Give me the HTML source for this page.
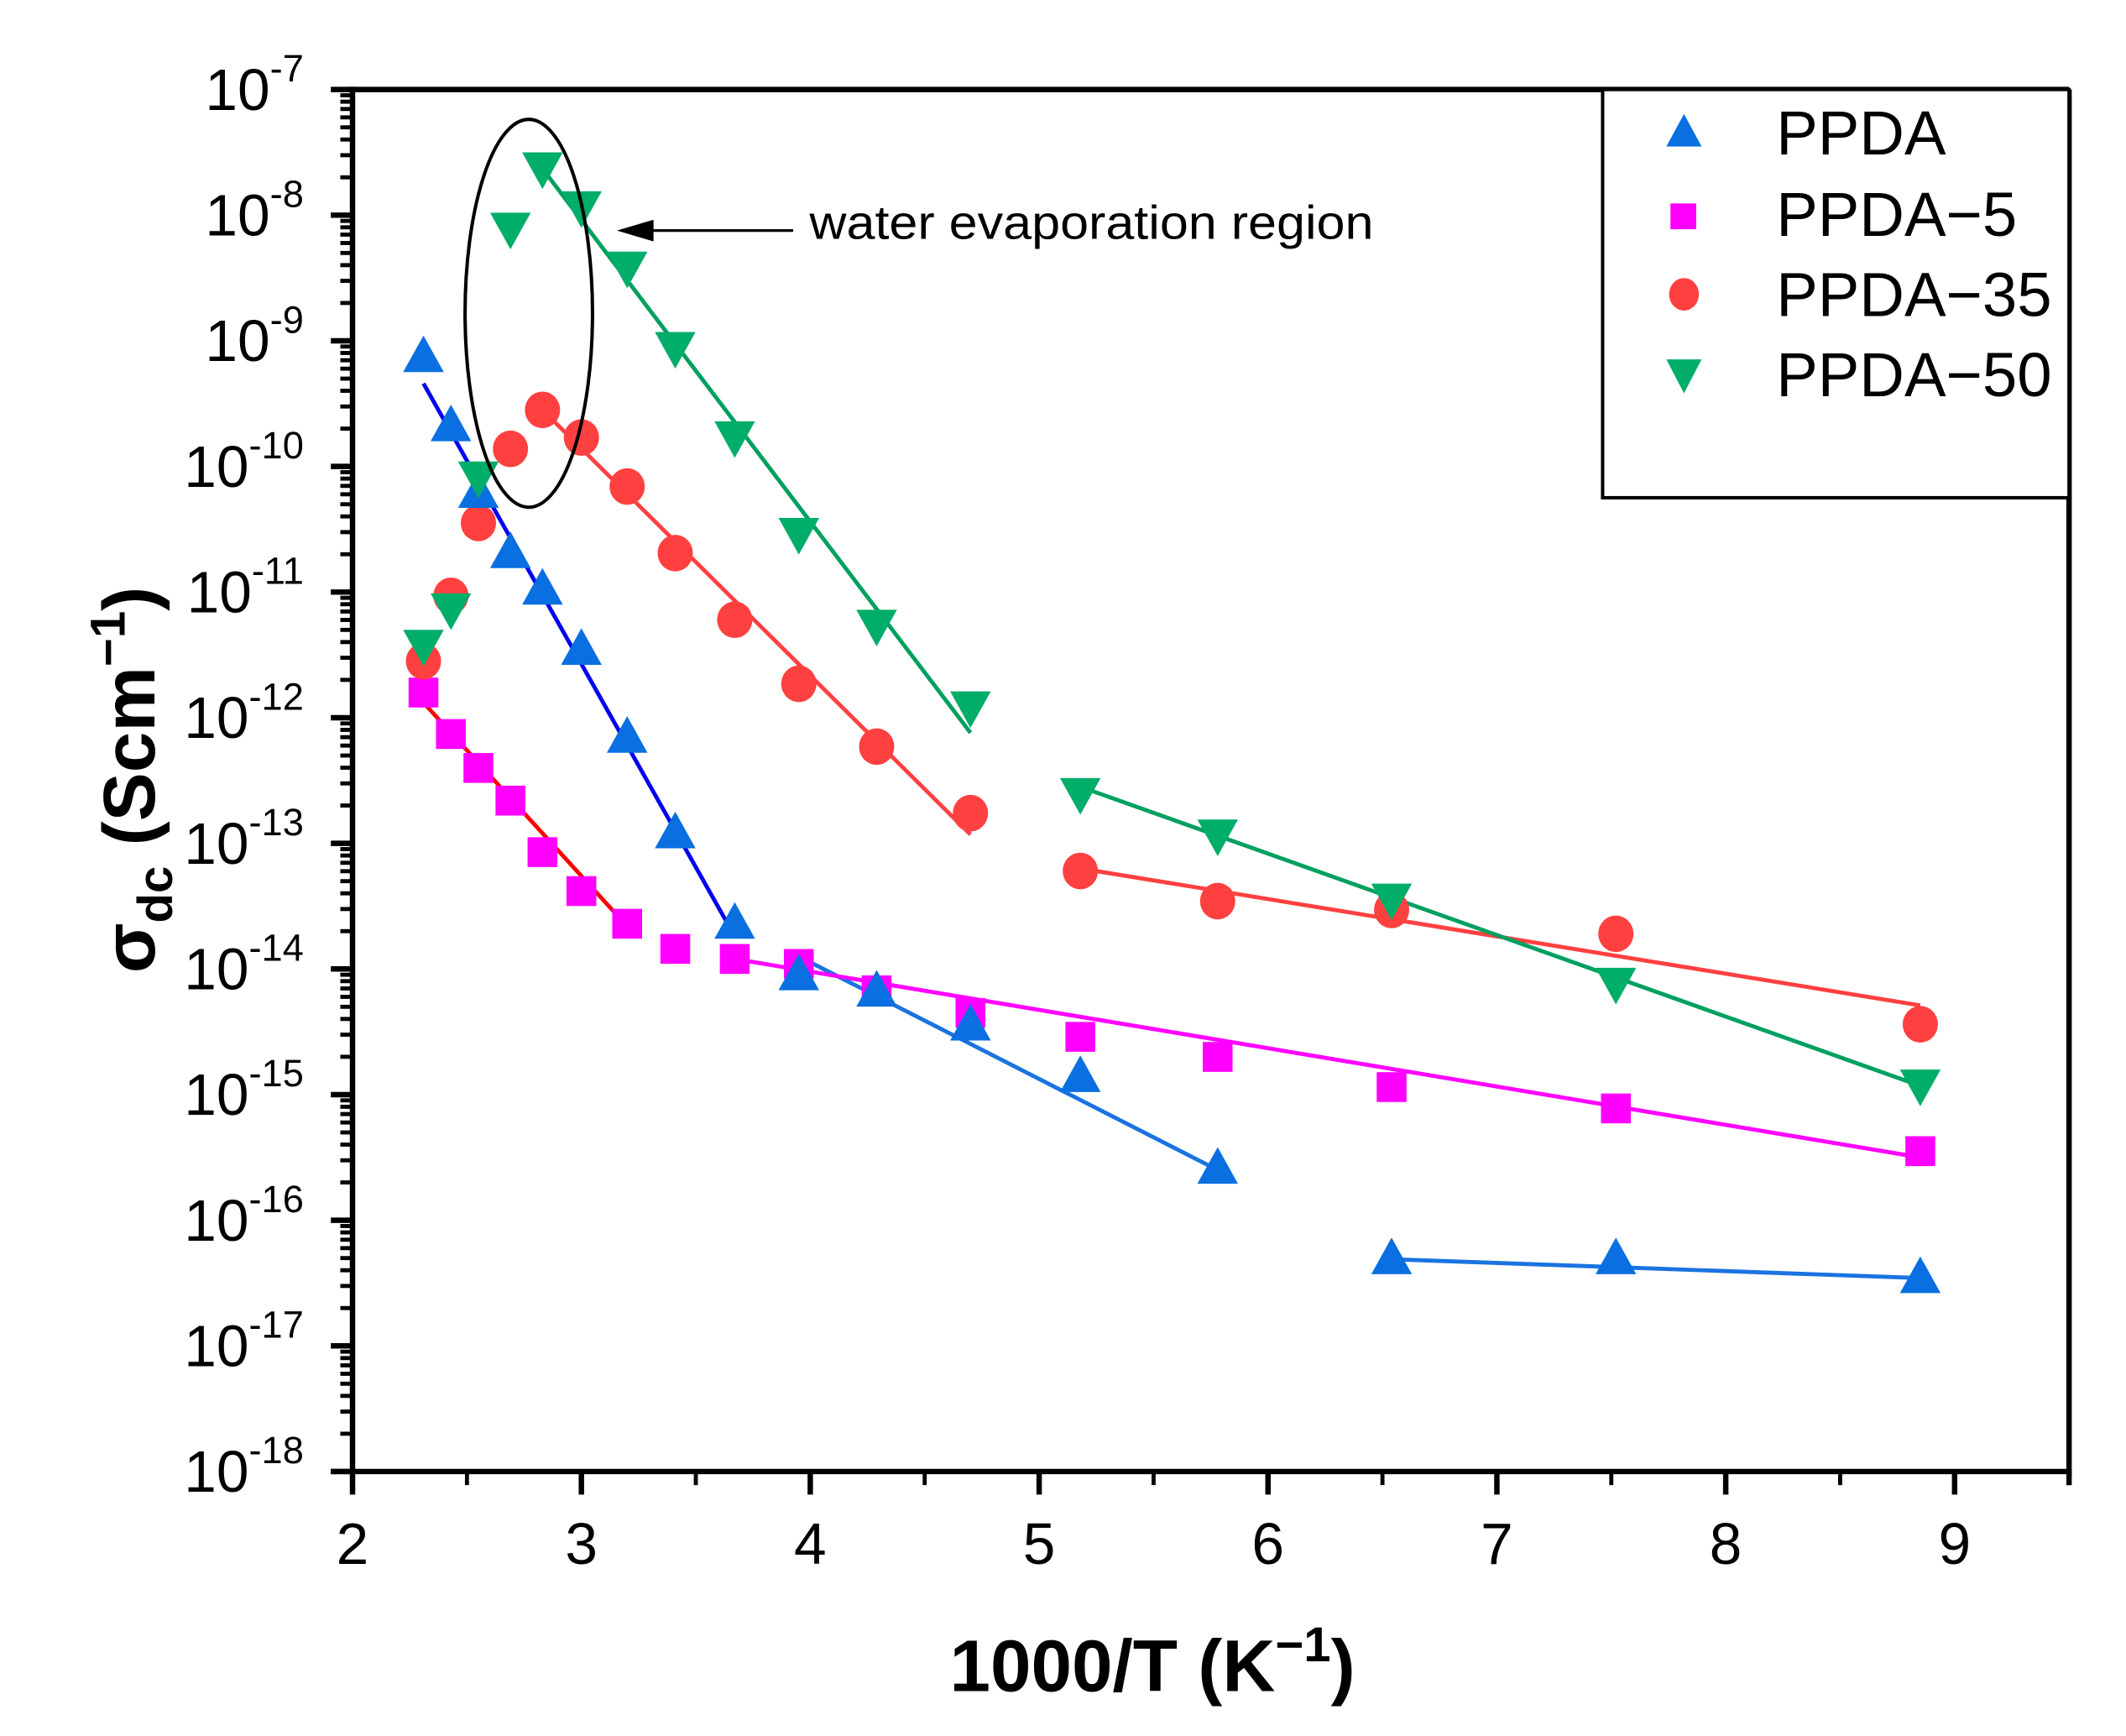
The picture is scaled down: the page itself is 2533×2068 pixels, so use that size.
<!DOCTYPE html>
<html><head><meta charset="utf-8"><style>
html,body{margin:0;padding:0;background:#fff}
svg{display:block}
text{font-family:"Liberation Sans",Arial,sans-serif}
</style></head><body>
<svg id="chart" width="2533" height="2068" viewBox="0 0 1568 1280" preserveAspectRatio="none" xmlns="http://www.w3.org/2000/svg">
<g id="axes"></g>
<g id="fits"></g>
<g id="marks"></g>
<g>
  <ellipse cx="390" cy="231" rx="47" ry="143" fill="none" stroke="#000" stroke-width="2.5"/>
  <line x1="585" y1="170" x2="470" y2="170" stroke="#000" stroke-width="2"/>
  <polygon points="455,170 482,162 482,178" fill="#000"/>
  <text x="597" y="176" font-size="35" textLength="416" lengthAdjust="spacingAndGlyphs">water evaporation region</text>
</g>
<g>
  <rect x="1182" y="66" width="344" height="301" fill="#fff" stroke="#000" stroke-width="2.5"/>
  <polygon points="1242,84 1255,108 1229,108" fill="#0a6fe0"/>
  <text x="1310" y="114" font-size="46">PPDA</text>
  <rect x="1232" y="150" width="19" height="19" fill="#ff00ff"/>
  <text x="1310" y="174" font-size="46">PPDA−5</text>
  <ellipse cx="1242" cy="217" rx="11" ry="12" fill="#ff4040"/>
  <text x="1310" y="233" font-size="46">PPDA−35</text>
  <polygon points="1229,265 1255,265 1242,290" fill="#00ad69"/>
  <text x="1310" y="292" font-size="46">PPDA−50</text>
</g>
<text transform="translate(114,575) rotate(-90)" text-anchor="middle" font-size="54" font-weight="bold">σ<tspan font-size="36" dy="13">dc</tspan><tspan dy="-13"> (Scm</tspan><tspan font-size="36" dy="-22">−1</tspan><tspan dy="22">)</tspan></text>
<text x="850" y="1247" text-anchor="middle" font-size="54" font-weight="bold">1000/T (K<tspan font-size="36" dy="-22">−1</tspan><tspan dy="22">)</tspan></text>
</svg>
<script>
// ---- data ----
const xValues = [2.31,2.43,2.55,2.69,2.83,3.0,3.2,3.41,3.67,3.95,4.29,4.7,5.18,5.78,6.54,7.52,8.85];
const ppdaLog = [-9.12,-9.67,-10.2,-10.68,-10.97,-11.45,-12.15,-12.91,-13.63,-14.04,-14.17,-14.44,-14.85,-15.58,-16.30,-16.30,-16.45];
const ppda5Log = [-11.80,-12.13,-12.40,-12.66,-13.07,-13.38,-13.64,-13.84,-13.92,-13.96,-14.17,-14.35,-14.54,-14.70,-14.94,-15.11,-15.45];
const ppda35Log = [-11.55,-11.03,-10.45,-9.86,-9.55,-9.77,-10.16,-10.69,-11.22,-11.73,-12.23,-12.76,-13.22,-13.46,-13.53,-13.72,-14.44];
const ppda50Log = [-11.43,-11.14,-10.09,-8.11,-7.63,-7.94,-8.42,-9.06,-9.77,-10.54,-11.27,-11.92,-12.61,-12.94,-13.45,-14.12,-14.93];
// fit lines: [x1, log1, x2, log2]
const fitPpdaA = [2.31,-9.34,3.67,-13.74];
const fitPpdaB = [3.95,-13.90,5.78,-15.60];
const fitPpdaC = [6.54,-16.31,8.85,-16.46];
const fitPpda5A = [2.31,-11.88,3.2,-13.66];
const fitPpda5B = [3.67,-13.92,8.85,-15.50];
const fitPpda35A = [2.83,-9.55,4.7,-12.93];
const fitPpda35B = [5.18,-13.20,8.85,-14.29];
const fitPpda50A = [2.83,-7.63,4.7,-12.12];
const fitPpda50B = [5.18,-12.55,8.85,-14.93];
const xTicks = [2,3,4,5,6,7,8,9];
const yExps = [-7,-8,-9,-10,-11,-12,-13,-14,-15,-16,-17,-18];

// ---- scales ----
const X0=260, X1=1526, XMIN=2, XMAX=9.5, YT=66, YB=1085, LMAX=-7, LMIN=-18;
const sx = v => X0 + (v-XMIN)/(XMAX-XMIN)*(X1-X0);
const sy = l => YT + (LMAX-l)/(LMAX-LMIN)*(YB-YT);
const NS="http://www.w3.org/2000/svg";
function mk(tag, parent, attrs){const e=document.createElementNS(NS,tag);for(const k in attrs)e.setAttribute(k,attrs[k]);parent.appendChild(e);return e;}

const axes=document.getElementById('axes');
let e;
e=mk('line',axes,{x1:X0,y1:YT,x2:X1,y2:YT,stroke:'#000','stroke-width':4});


e=mk('line',axes,{x1:X1,y1:YT,x2:X1,y2:YB+10,stroke:'#000','stroke-width':4});


e=mk('line',axes,{x1:X0,y1:YT-2,x2:X0,y2:YB+2,stroke:'#000','stroke-width':4});


e=mk('line',axes,{x1:X0-16,y1:YB,x2:X1+2,y2:YB,stroke:'#000','stroke-width':4});



yExps.forEach(p=>{
  const y=sy(p);
  e=mk('line',axes,{x1:X0-16,y1:y,x2:X0,y2:y,stroke:'#000','stroke-width':4});
  
  
  const t=mk('text',axes,{x:224,y:y+15,'text-anchor':'end','font-size':43});
  
  
  t.innerHTML='10<tspan font-size="28" dy="-21">-'+(-p)+'</tspan>';
  if(p>LMIN){
    for(let m=2;m<=9;m++){
      const ym=sy(p-1+Math.log10(m));
      e=mk('line',axes,{x1:X0-9,y1:ym,x2:X0,y2:ym,stroke:'#000','stroke-width':3});
      
      
    }
  }
});
xTicks.forEach(v=>{
  const x=sx(v);
  e=mk('line',axes,{x1:x,y1:YB,x2:x,y2:YB+17,stroke:'#000','stroke-width':4});
  
  
  const t=mk('text',axes,{x:x,y:YB+68,'text-anchor':'middle','font-size':43});
  
  
  t.textContent=v;
  const xm=sx(v+0.5);
  e=mk('line',axes,{x1:xm,y1:YB,x2:xm,y2:YB+10,stroke:'#000','stroke-width':3});
  
  
});

const fits=document.getElementById('fits');
function fit(a,color,name){
  const l=mk('line',fits,{x1:sx(a[0]),y1:sy(a[1]),x2:sx(a[2]),y2:sy(a[3]),stroke:color,'stroke-width':3});
  
  
}
fit(fitPpdaA,'#0000ee','fit-ppda-1');
fit(fitPpdaB,'#1a73e0','fit-ppda-2');
fit(fitPpdaC,'#1a73e0','fit-ppda-3');
fit(fitPpda5A,'#ff0000','fit-ppda-5-1');
fit(fitPpda5B,'#ff00ff','fit-ppda-5-2');
fit(fitPpda35A,'#ff4040','fit-ppda-35-1');
fit(fitPpda35B,'#ff4040','fit-ppda-35-2');
fit(fitPpda50A,'#00a060','fit-ppda-50-1');
fit(fitPpda50B,'#00a060','fit-ppda-50-2');

const marks=document.getElementById('marks');
xValues.forEach((v,i)=>{
  const x=sx(v);
  let y=sy(ppda5Log[i]);
  let m=mk('rect',marks,{x:x-11,y:y-11,width:22,height:22,fill:'#ff00ff'});
  
  
  y=sy(ppda35Log[i]);
  m=mk('ellipse',marks,{cx:x,cy:y,rx:13,ry:13.5,fill:'#ff4040'});
  
  
  y=sy(ppdaLog[i]);
  m=mk('polygon',marks,{points:`${x},${y-15} ${x+15},${y+12} ${x-15},${y+12}`,fill:'#0a6fe0'});
  
  
  y=sy(ppda50Log[i]);
  m=mk('polygon',marks,{points:`${x-15},${y-12} ${x+15},${y-12} ${x},${y+15}`,fill:'#00ad69'});
  
  
});
</script>
</body></html>
